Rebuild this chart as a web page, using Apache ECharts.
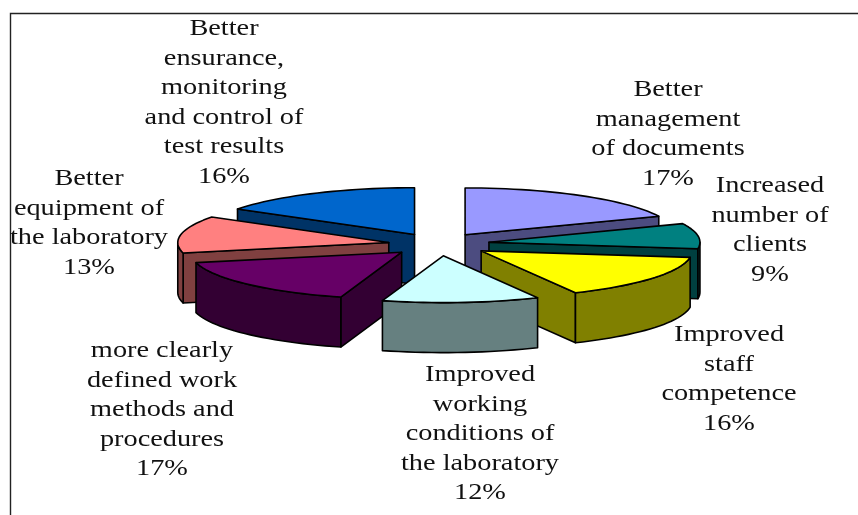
<!DOCTYPE html>
<html>
<head>
<meta charset="utf-8">
<style>
  html, body { margin: 0; padding: 0; background: #fff; }
  #chart { width: 858px; height: 515px; }
</style>
<script src="https://cdn.jsdelivr.net/npm/echarts@6/dist/echarts.min.js"></script>
</head>
<body>
<div id="chart"></div>
<script>
// data, clockwise from 12 o'clock
const categories = [
  'Better\nmanagement\nof documents',
  'Increased\nnumber of\nclients',
  'Improved\nstaff\ncompetence',
  'Improved\nworking\nconditions of\nthe laboratory',
  'more clearly\ndefined work\nmethods and\nprocedures',
  'Better\nequipment of\nthe laboratory',
  'Better\nensurance,\nmonitoring\nand control of\ntest results',
];
const values = [17, 9, 16, 12, 17, 13, 16];

// colours
const topColors = ['#9999FF', '#008080', '#FFFF00', '#CCFFFF', '#660066', '#FF8080', '#0066CC'];
const sideColors = ['#4C4C80', '#004040', '#808000', '#668080', '#330033', '#804040', '#003366'];

// label layout: centre x, middle y of first line
const labelX = [668, 770, 729, 480, 162, 89, 224];
const labelY = [89, 185, 334, 374, 350, 178, 28];

// pie projection
const cx = 439;
const cy = 244.5;
const radius = 211;
const tilt = 0.222;
const explode = 51;
const depth = 50;
const DEG = Math.PI / 180;

const total = values.reduce((a, b) => a + b, 0);
const startAngles = [];
values.reduce((sum, v, i) => {
  startAngles[i] = (sum / total) * Math.PI * 2;
  return sum + v;
}, 0);

function midAngle(i) {
  return startAngles[i] + (values[i] / total) * Math.PI;
}

// the original 3D view is a little skewed, front of the pie sits further clockwise
function skew(t) {
  return t + 1.2 * DEG * (1 - Math.cos(t));
}
function viewAngle(t) {
  const bump = t < (120 * DEG) ? 4.8 * DEG * Math.sin(1.5 * t) : 0;
  return skew(t) + bump;
}

// paint far slices first
const drawOrder = values
  .map((_, i) => i)
  .sort((a, b) => Math.cos(midAngle(b)) - Math.cos(midAngle(a)));

function arcPoints(ax, ay, from, to) {
  const pts = [];
  const steps = Math.max(2, Math.ceil((to - from) / 0.04));
  for (let s = 0; s <= steps; s++) {
    const t = from + ((to - from) * s) / steps;
    pts.push([ax + radius * Math.sin(t), ay - radius * tilt * Math.cos(t)]);
  }
  return pts;
}

function wall(pts, fill) {
  const lower = pts.map((p) => [p[0], p[1] + depth]).reverse();
  return {
    type: 'polygon',
    shape: { points: pts.concat(lower) },
    style: { fill: fill, stroke: '#000', lineWidth: 1.6, lineJoin: 'round' },
  };
}

function renderSlice(params, api) {
  const i = api.value(0);
  const from = viewAngle(startAngles[i]);
  const to = viewAngle(startAngles[i] + (api.value(1) / total) * Math.PI * 2);
  const mid = skew(midAngle(i));
  const ax = cx + explode * Math.sin(mid);
  const ay = cy - explode * tilt * Math.cos(mid);
  const arc = arcPoints(ax, ay, from, to);
  const apex = [ax, ay];
  const first = arc[0];
  const last = arc[arc.length - 1];
  const children = [];

  // only faces turned to the viewer
  if (first[0] < ax) children.push(wall([apex, first], sideColors[i]));
  if (last[0] > ax) children.push(wall([last, apex], sideColors[i]));
  const frontFrom = Math.max(from, Math.PI / 2);
  const frontTo = Math.min(to, Math.PI * 1.5);
  if (frontFrom < frontTo) {
    children.push(wall(arcPoints(ax, ay, frontFrom, frontTo), sideColors[i]));
  }

  children.push({
    type: 'polygon',
    shape: { points: [apex].concat(arc) },
    style: { fill: topColors[i], stroke: '#000', lineWidth: 1.6, lineJoin: 'round' },
  });
  return { type: 'group', children: children };
}

function renderLabel(params, api) {
  const i = api.value(0);
  return {
    type: 'text',
    x: labelX[i],
    y: labelY[i] - 14,
    scaleX: 1.18,
    style: {
      text: categories[i] + '\n' + api.value(1) + '%',
      fill: '#111',
      font: '24px "Liberation Serif", serif',
      align: 'center',
      verticalAlign: 'top',
      lineHeight: 29.6,
    },
  };
}

const chart = echarts.init(document.getElementById('chart'), null, { renderer: 'canvas' });
chart.setOption({
  animation: false,
  backgroundColor: '#fff',
  graphic: [
    {
      type: 'polyline',
      shape: { points: [[10.5, 515], [10.5, 13.5], [858, 13.5]] },
      style: { fill: null, stroke: '#222', lineWidth: 1.4 },
    },
  ],
  series: [
    {
      type: 'custom',
      coordinateSystem: 'none',
      renderItem: renderSlice,
      silent: true,
      data: drawOrder.map((i) => [i, values[i]]),
    },
    {
      type: 'custom',
      coordinateSystem: 'none',
      renderItem: renderLabel,
      silent: true,
      data: values.map((v, i) => [i, v]),
    },
  ],
});
</script>
</body>
</html>
